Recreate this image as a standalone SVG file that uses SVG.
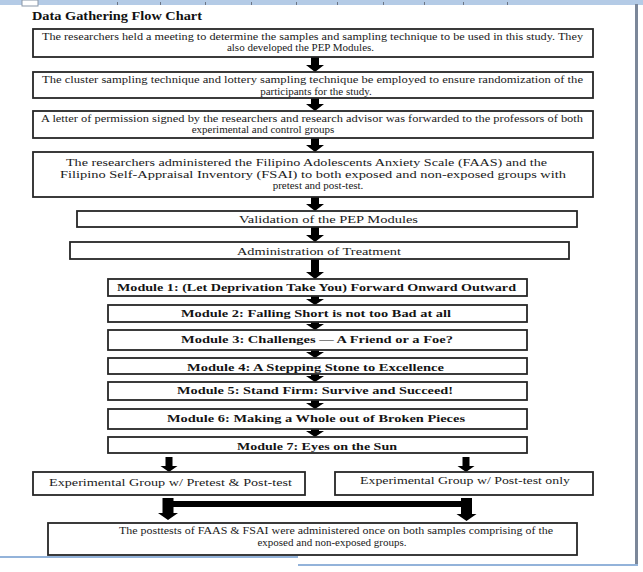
<svg xmlns="http://www.w3.org/2000/svg" width="643" height="572" viewBox="0 0 643 572">
<defs>
<style>
.box{fill:#fff;stroke:#262626;stroke-width:1.8}
.t{font-family:"Liberation Serif","Times New Roman",serif;font-size:10.5px;fill:#1a1a1a;text-anchor:middle}
.t4{font-size:11px}
.t12{font-size:11px}
.tb{font-family:"Liberation Serif","Times New Roman",serif;font-size:11px;font-weight:bold;fill:#141414;text-anchor:middle}
.arrow{fill:#000}
</style>
<clipPath id="c4"><rect x="108" y="358" width="419" height="16"/></clipPath>
<clipPath id="c7"><rect x="108" y="437" width="419" height="16"/></clipPath>
</defs>
<rect width="643" height="572" fill="#fff"/>
<g id="page">
<rect x="0" y="0" width="643" height="5" fill="#b4cbe6"/>
<rect x="22" y="0" width="16" height="6" fill="#fff" stroke="#8a97a8" stroke-width="1"/>
<g fill="#6c7686">
<rect x="117" y="2" width="1" height="3"/><rect x="160" y="2" width="1" height="3"/><rect x="205" y="2" width="1" height="3"/><rect x="251" y="2" width="1" height="3"/><rect x="296" y="2" width="1" height="3"/><rect x="337" y="2" width="1" height="3"/><rect x="383" y="2" width="1" height="3"/><rect x="424" y="2" width="1" height="3"/><rect x="463" y="2" width="1" height="3"/><rect x="507" y="2" width="1" height="3"/>
</g>
<rect x="635" y="4" width="3" height="562" fill="#7b8799"/>
<rect x="0" y="556" width="298" height="2" fill="#93b3da"/>
<rect x="298" y="564" width="340" height="2" fill="#93b3da"/>
</g>
<text x="32" y="20" font-family="Liberation Serif, serif" font-weight="bold" font-size="11.5" fill="#111" textLength="170" lengthAdjust="spacingAndGlyphs">Data Gathering Flow Chart</text>
<g id="connectors">
<path class="arrow" d="M311,57H319V65H324L315,72L306,65H311Z"/>
<path class="arrow" d="M311,98H319V104H324L315,111L306,104H311Z"/>
<path class="arrow" d="M311,138H319V145H324L315,152L306,145H311Z"/>
<path class="arrow" d="M311,197H319V204H324L315,211L306,204H311Z"/>
<path class="arrow" d="M311,227H319V235H324L315,242L306,235H311Z"/>
<path class="arrow" d="M311,259H319V272H324L315,279L306,272H311Z"/>
<path class="arrow" d="M311,296H319V299H324L315,305L306,299H311Z"/>
<path class="arrow" d="M311,322H319V324H324L315,330L306,324H311Z"/>
<path class="arrow" d="M311,350H319V352H324L315,358L306,352H311Z"/>
<path class="arrow" d="M311,374H319V376H324L315,382L306,376H311Z"/>
<path class="arrow" d="M311,400H319V403H324L315,409L306,403H311Z"/>
<path class="arrow" d="M311,429H319V431H324L315,437L306,431H311Z"/>
<path class="arrow" d="M165.5,457H172.5V466H177.5L169,472L160.5,466H165.5Z"/>
<path class="arrow" d="M462.5,457H469.5V466H474.5L466,472L457.5,466H462.5Z"/>
<path class="arrow" d="M162.5,498H173.5V513H178L168,520L158,513H162.5Z"/>
<path class="arrow" d="M461,498H472V514H476.5L466.5,521L456.5,514H461Z"/>
<rect class="arrow" x="168" y="501" width="298" height="6"/>
</g>
<g id="n1"><rect class="box" x="33" y="29" width="560" height="28"/>
<text class="t" x="312.5" y="40" textLength="541" lengthAdjust="spacingAndGlyphs">The researchers held a meeting to determine the samples and sampling technique to be used in this study. They</text>
<text class="t t4" x="300.5" y="51">also developed the PEP Modules.</text></g>
<g id="n2"><rect class="box" x="33" y="72" width="560" height="26"/>
<text class="t" x="312.5" y="83" textLength="541" lengthAdjust="spacingAndGlyphs">The cluster sampling technique and lottery sampling technique be employed to ensure randomization of the</text>
<text class="t t4" x="316" y="95">participants for the study.</text></g>
<g id="n3"><rect class="box" x="33" y="111" width="560" height="27"/>
<text class="t" x="312" y="122" textLength="542" lengthAdjust="spacingAndGlyphs">A letter of permission signed by the researchers and research advisor was forwarded to the professors of both</text>
<text class="t t4" x="263" y="133">experimental and control groups</text></g>
<g id="n4"><rect class="box" x="33" y="152" width="560" height="45"/>
<text class="t t4" x="306.5" y="166" textLength="481" lengthAdjust="spacingAndGlyphs">The researchers administered the Filipino  Adolescents Anxiety Scale  (FAAS) and the</text>
<text class="t t4" x="313" y="178" textLength="506" lengthAdjust="spacingAndGlyphs">Filipino  Self-Appraisal Inventory (FSAI) to both exposed and non-exposed groups with</text>
<text class="t t4" x="318" y="189">pretest and post-test.</text></g>
<g id="n5"><rect class="box" x="77" y="211" width="500" height="16"/>
<text class="t t12" x="328.5" y="223" textLength="179" lengthAdjust="spacingAndGlyphs">Validation of the PEP Modules</text></g>
<g id="n6"><rect class="box" x="70" y="242" width="499" height="17"/>
<text class="t t12" x="319" y="254.5" textLength="164" lengthAdjust="spacingAndGlyphs">Administration of Treatment</text></g>
<g id="m1"><rect class="box" x="108" y="279" width="419" height="17"/>
<text class="tb" x="316.5" y="291" textLength="399" lengthAdjust="spacingAndGlyphs">Module 1: (Let Deprivation Take You) Forward Onward Outward</text></g>
<g id="m2"><rect class="box" x="108" y="305" width="419" height="17"/>
<text class="tb" x="316" y="317" textLength="270" lengthAdjust="spacingAndGlyphs">Module 2: Falling  Short is not  too Bad  at all</text></g>
<g id="m3"><rect class="box" x="108" y="330" width="419" height="20"/>
<text class="tb" x="317" y="343" textLength="272" lengthAdjust="spacingAndGlyphs">Module 3: Challenges  — A Friend or a Foe?</text></g>
<g id="m4"><rect class="box" x="108" y="358" width="419" height="16"/>
<text class="tb" x="315.5" y="371" textLength="257" lengthAdjust="spacingAndGlyphs" clip-path="url(#c4)">Module 4: A Stepping Stone to Excellence</text></g>
<g id="m5"><rect class="box" x="108" y="382" width="419" height="18"/>
<text class="tb" x="315" y="394" textLength="276" lengthAdjust="spacingAndGlyphs">Module 5: Stand  Firm: Survive  and Succeed!</text></g>
<g id="m6"><rect class="box" x="108" y="409" width="419" height="20"/>
<text class="tb" x="316" y="422" textLength="298" lengthAdjust="spacingAndGlyphs">Module 6: Making  a  Whole  out  of Broken Pieces</text></g>
<g id="m7"><rect class="box" x="108" y="437" width="419" height="16"/>
<text class="tb" x="317" y="450" textLength="160" lengthAdjust="spacingAndGlyphs" clip-path="url(#c7)">Module 7: Eyes on the Sun</text></g>
<g id="g1"><rect class="box" x="33" y="472" width="272" height="23"/>
<text class="t" x="170.5" y="486" textLength="243" lengthAdjust="spacingAndGlyphs">Experimental Group w/ Pretest &amp; Post-test</text></g>
<g id="g2"><rect class="box" x="335" y="472" width="258" height="23"/>
<text class="t" x="465" y="484" textLength="210" lengthAdjust="spacingAndGlyphs">Experimental Group w/ Post-test only</text></g>
<g id="final"><rect class="box" x="48" y="523" width="529" height="32"/>
<text class="t" x="336" y="534" textLength="434" lengthAdjust="spacingAndGlyphs">The posttests of FAAS &amp; FSAI were administered once on both samples comprising of the</text>
<text class="t t4" x="332" y="546">exposed and non-exposed groups.</text></g>
</svg>
